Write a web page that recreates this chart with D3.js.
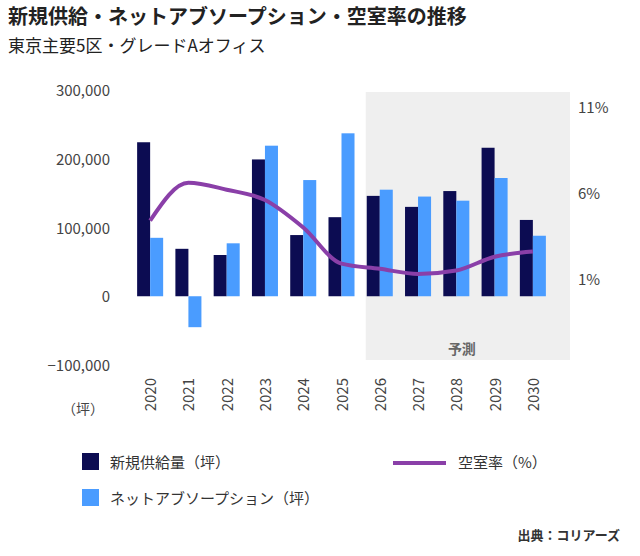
<!DOCTYPE html>
<html><head><meta charset="utf-8">
<script src="https://cdn.jsdelivr.net/npm/d3@7"></script>
<style>body{margin:0;background:#fff;font-family:"Noto Sans CJK JP","Noto Sans",sans-serif;}</style>
</head><body>
<svg id="c" width="640" height="556"></svg>
<script>
// data
var years = ["2020","2021","2022","2023","2024","2025","2026","2027","2028","2029","2030"];
var supply = [224000, 69000, 60000, 199000, 89000, 115000, 146000, 130000, 153000, 216000, 111000];
var absorption = [85000, -45000, 77000, 219000, 169000, 237000, 155000, 145000, 139000, 172000, 88000];
var vacancy = [4.4, 6.6, 6.2, 5.6, 4.0, 1.9, 1.6, 1.3, 1.5, 2.3, 2.6];
var leftTicks = [-100000, 0, 100000, 200000, 300000];
var rightTicks = [1, 6, 11];
var forecastFrom = "2026";

var svg = d3.select("#c");
var x = d3.scaleBand().domain(years).range([131, 552]).paddingInner(0.32).paddingOuter(0.16);
var y = d3.scaleLinear().domain([-100000, 300000]).range([365, 90]);
var yr = d3.scaleLinear().domain([-4, 12]).range([365, 90]);

svg.append("text").attr("x", 8).attr("y", 24).attr("font-size", 20).attr("font-weight", "bold").attr("fill", "#222")
  .text("新規供給・ネットアブソープション・空室率の推移");
svg.append("text").attr("x", 8).attr("y", 52).attr("font-size", 17).attr("fill", "#222")
  .text("東京主要5区・グレードAオフィス");

// forecast band
var fx = x(forecastFrom) - 1;
svg.append("rect").attr("x", fx).attr("y", 92).attr("width", 570 - fx).attr("height", 268).attr("fill", "#efefef");
svg.append("text").attr("x", (fx + 570) / 2 - 6).attr("y", 354).attr("text-anchor", "middle")
  .attr("font-size", 14).attr("font-weight", "bold").attr("fill", "#666").text("予測");

// axis labels
svg.append("g").selectAll("text").data(leftTicks).enter().append("text")
  .attr("x", 110).attr("y", function(d){ return y(d) + 6; }).attr("text-anchor", "end")
  .attr("font-size", 15).attr("fill", "#444").text(d3.format(","));
svg.append("g").selectAll("text").data(rightTicks).enter().append("text")
  .attr("x", 578).attr("y", function(d){ return yr(d) + 6; })
  .attr("font-size", 15).attr("fill", "#444").text(function(d){ return d + "%"; });
svg.append("text").attr("x", 62).attr("y", 414).attr("font-size", 14).attr("fill", "#444").text("（坪）");

var bw = x.bandwidth() / 2;
svg.append("g").selectAll("rect").data(years).enter().append("rect")
  .attr("x", function(d){ return x(d); }).attr("width", bw)
  .attr("y", function(d, i){ return y(Math.max(0, supply[i])); })
  .attr("height", function(d, i){ return Math.abs(y(supply[i]) - y(0)); })
  .attr("fill", "#0c0c52");
svg.append("g").selectAll("rect").data(years).enter().append("rect")
  .attr("x", function(d){ return x(d) + bw; }).attr("width", bw)
  .attr("y", function(d, i){ return y(Math.max(0, absorption[i])); })
  .attr("height", function(d, i){ return Math.abs(y(absorption[i]) - y(0)); })
  .attr("fill", "#4a9cff");

var line = d3.line().curve(d3.curveMonotoneX)
  .x(function(d, i){ return x(years[i]) + x.bandwidth() / 2; })
  .y(function(d){ return yr(d); });
svg.append("path").datum(vacancy).attr("d", line).attr("fill", "none")
  .attr("stroke", "#8a3fa8").attr("stroke-width", 4);

// year labels
svg.append("g").selectAll("text").data(years).enter().append("text")
  .attr("transform", function(d){ return "translate(" + (x(d) + x.bandwidth() / 2 + 6) + ",378) rotate(-90)"; })
  .attr("text-anchor", "end").attr("font-size", 15).attr("fill", "#444").text(function(d){ return d; });

// legend
svg.append("rect").attr("x", 82).attr("y", 453).attr("width", 17).attr("height", 17).attr("fill", "#0c0c52");
svg.append("text").attr("x", 110).attr("y", 468).attr("font-size", 15).attr("fill", "#333").text("新規供給量（坪）");
svg.append("line").attr("x1", 393).attr("x2", 446).attr("y1", 463).attr("y2", 463).attr("stroke", "#8a3fa8").attr("stroke-width", 4);
svg.append("text").attr("x", 458).attr("y", 468).attr("font-size", 15).attr("fill", "#333").text("空室率（%）");
svg.append("rect").attr("x", 82).attr("y", 489).attr("width", 17).attr("height", 17).attr("fill", "#4a9cff");
svg.append("text").attr("x", 110).attr("y", 504).attr("font-size", 15).attr("fill", "#333").text("ネットアブソープション（坪）");
svg.append("text").attr("x", 620).attr("y", 540).attr("text-anchor", "end").attr("font-size", 13)
  .attr("font-weight", "bold").attr("fill", "#333").text("出典：コリアーズ");
</script>
</body></html>
